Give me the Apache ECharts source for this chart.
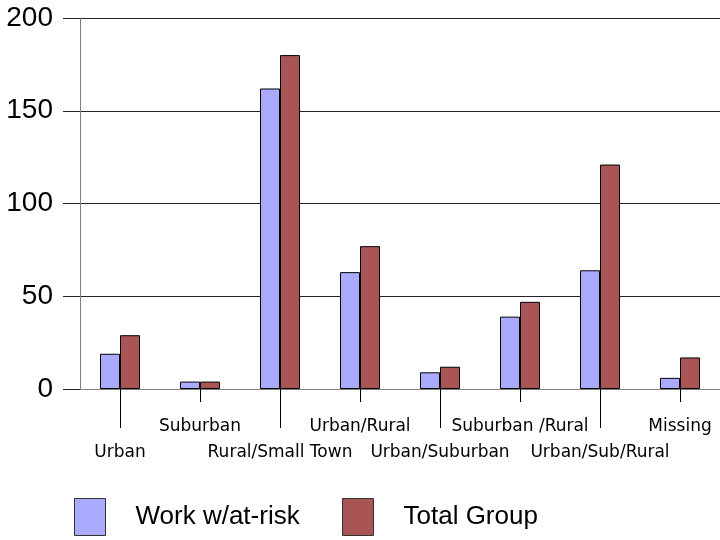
<!DOCTYPE html>
<html>
<head>
<meta charset="utf-8">
<script src="https://cdn.jsdelivr.net/npm/echarts@6/dist/echarts.min.js"></script>
<style>
	html, body { margin: 0; padding: 0; background: #fff; }
	#chart { width: 720px; height: 540px; }
</style>
</head>
<body>
<div id="chart"></div>
<script>
var categories = ['Urban', 'Suburban', 'Rural/Small Town', 'Urban/Rural', 'Urban/Suburban', 'Suburban /Rural', 'Urban/Sub/Rural', 'Missing']
var workAtRisk = [19, 4, 162, 63, 9, 39, 64, 6]
var totalGroup = [29, 4, 180, 77, 12, 47, 121, 17]
var seriesNames = ['Work w/at-risk', 'Total Group']
var yTicks = { min: 0, max: 200, step: 50 }

var colors = ['#AAAAFF', '#AA5555']	// 0-work  1-total
var labelFont = '"Comic Sans MS", "DejaVu Sans", sans-serif'
var numFont = '"Liberation Sans", Arial, sans-serif'

var chart = echarts.init(document.getElementById('chart'))

var option = {}
option.animation = false

option.grid = {
	left: 80,
	right: 0,
	top: 18,
	bottom: 151
}

// two legends so each item sits where it did in the original
var legendItem = function(name, left) {
	return {
		left: left,
		top: 498,
		padding: 0,
		icon: 'rect',
		itemWidth: 31,
		itemHeight: 37,
		itemStyle: { borderColor: '#333', borderWidth: 1 },
		data: [name],
		textStyle: { fontSize: 26, fontFamily: numFont, color: '#000', padding: [0, 0, 0, 25] }
	}
}
option.legend = [legendItem(seriesNames[0], 74), legendItem(seriesNames[1], 342)]

// long ticks for even categories, short for odd ones
option.xAxis = [{
	type: 'category',
	data: categories,
	position: 'bottom',
	axisLine: { show: true, lineStyle: { color: '#808080', width: 1 } },
	axisTick: {
		show: true,
		alignWithLabel: true,
		length: 39,
		interval: function(i) { return i % 2 == 0 },
		lineStyle: { color: '#000' }
	},
	axisLabel: {
		interval: 0,
		margin: 25,
		fontSize: 17,
		fontFamily: labelFont,
		color: '#000',
		lineHeight: 26,
		formatter: function(v, i) { return i % 2 == 0 ? '\n' + v : v }
	}
}, {
	type: 'category',
	data: categories,
	position: 'bottom',
	axisLine: { show: false },
	axisTick: {
		show: true,
		alignWithLabel: true,
		length: 13,
		interval: function(i) { return i % 2 == 1 },
		lineStyle: { color: '#000' }
	},
	axisLabel: { show: false }
}]

option.yAxis = {
	type: 'value',
	min: yTicks.min,
	max: yTicks.max,
	interval: yTicks.step,
	axisLine: { show: true, lineStyle: { color: '#808080' } },
	axisTick: { show: true, length: 17, lineStyle: { color: '#222' } },
	splitLine: { show: true, lineStyle: { color: '#222', width: 1 } },
	axisLabel: { margin: 27, fontSize: 28, fontFamily: numFont, color: '#000' }
}

var barStyle = function(c) {
	return { color: c, borderColor: '#000', borderWidth: 1 }
}

option.series = [{
	name: seriesNames[0],
	type: 'bar',
	barWidth: 20,
	barGap: '0%',
	itemStyle: barStyle(colors[0]),
	data: workAtRisk
}, {
	name: seriesNames[1],
	type: 'bar',
	barWidth: 20,
	barGap: '0%',
	itemStyle: barStyle(colors[1]),
	data: totalGroup
}]

chart.setOption(option)
</script>
</body>
</html>
